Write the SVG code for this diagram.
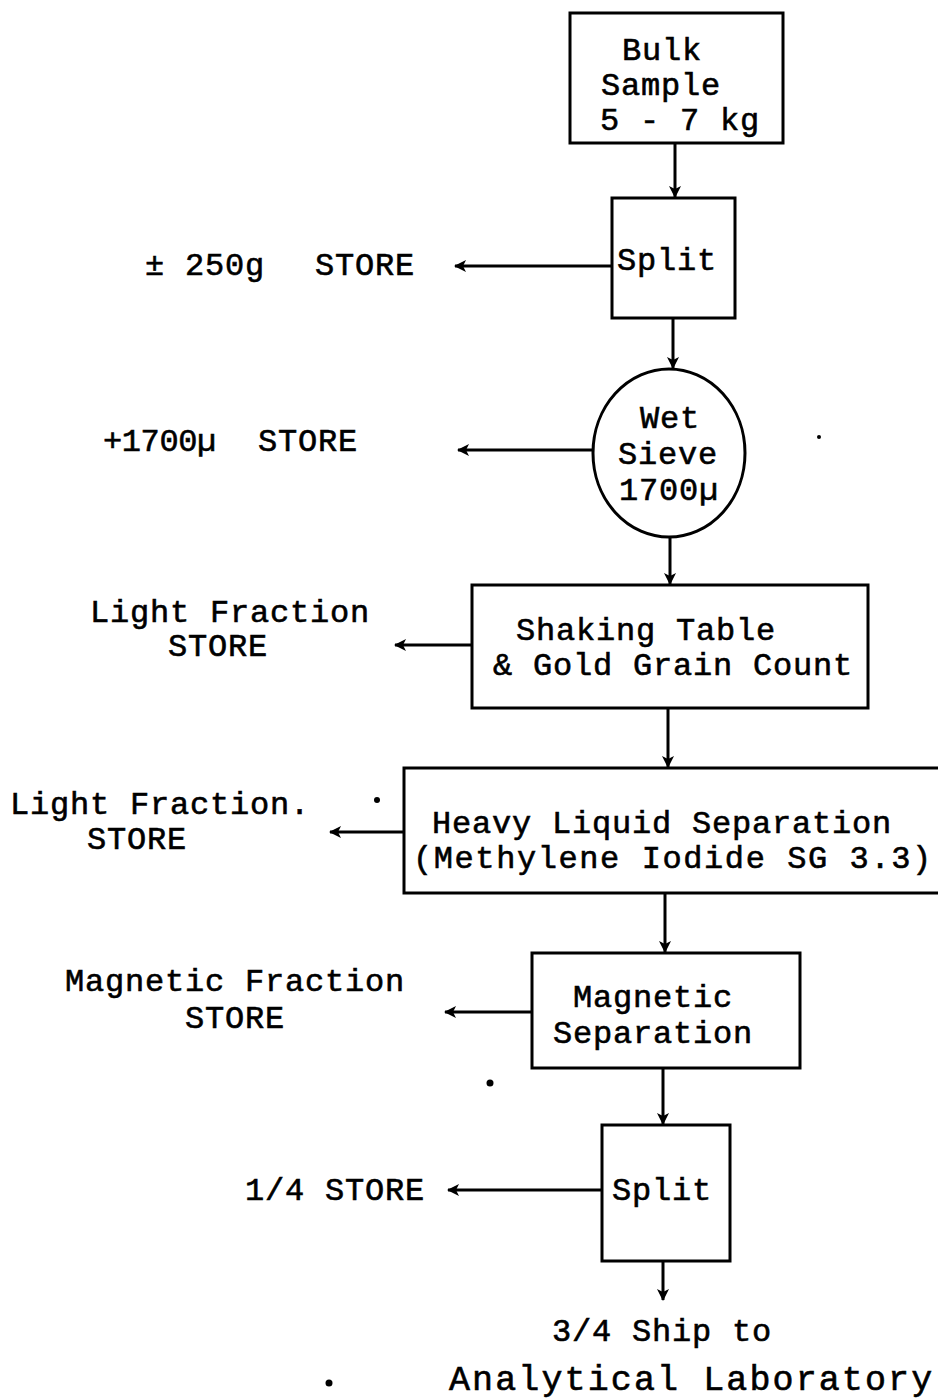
<svg xmlns="http://www.w3.org/2000/svg" width="938" height="1399" viewBox="0 0 938 1399">
<defs>
<marker id="ah" viewBox="0 0 12 12" refX="11" refY="6" markerWidth="12" markerHeight="12" markerUnits="userSpaceOnUse" orient="auto">
<path d="M0,0 L12,6 L0,12 L3,6 Z" fill="#000"/>
</marker>
<style>
.box{fill:#fff;stroke:#000;stroke-width:3}
.t{font-family:"Liberation Mono","Courier New",monospace;font-size:32px;letter-spacing:0.8px;fill:#000;stroke:#000;stroke-width:0.6}
.c{stroke:#000;stroke-width:3;fill:none;marker-end:url(#ah)}
</style>
</defs>
<rect width="938" height="1399" fill="#fff"/>
<g id="connectors">
<line class="c" x1="675" y1="143" x2="675" y2="197"/>
<line class="c" x1="673" y1="318" x2="673" y2="368"/>
<line class="c" x1="670" y1="537" x2="670" y2="584"/>
<line class="c" x1="668" y1="708" x2="668" y2="767"/>
<line class="c" x1="665" y1="893" x2="665" y2="952"/>
<line class="c" x1="663" y1="1068" x2="663" y2="1124"/>
<line class="c" x1="663" y1="1261" x2="663" y2="1300"/>
<line class="c" x1="612" y1="266" x2="455" y2="266"/>
<line class="c" x1="593" y1="450" x2="458" y2="450"/>
<line class="c" x1="472" y1="645" x2="395" y2="645"/>
<line class="c" x1="404" y1="832" x2="330" y2="832"/>
<line class="c" x1="532" y1="1012" x2="445" y2="1012"/>
<line class="c" x1="602" y1="1190" x2="448" y2="1190"/>
</g>
<g id="bulk">
<rect class="box" x="570" y="13" width="213" height="130"/>
<text class="t" x="622" y="60">Bulk</text>
<text class="t" x="601" y="95">Sample</text>
<text class="t" x="600" y="130">5 - 7 kg</text>
</g>
<g id="split1">
<rect class="box" x="612" y="198" width="123" height="120"/>
<text class="t" x="617" y="270">Split</text>
</g>
<g id="store250">
<text class="t" x="145" y="275">± 250g</text>
<text class="t" x="315" y="275">STORE</text>
</g>
<g id="wetsieve">
<ellipse class="box" cx="669" cy="453" rx="76" ry="84"/>
<text class="t" x="640" y="428">Wet</text>
<text class="t" x="618" y="464">Sieve</text>
<text class="t" x="619" y="500">1700µ</text>
</g>
<g id="store1700">
<text class="t" x="103" y="451" textLength="114">+1700µ</text>
<text class="t" x="258" y="451">STORE</text>
</g>
<g id="shaking">
<rect class="box" x="472" y="585" width="396" height="123"/>
<text class="t" x="516" y="640">Shaking Table</text>
<text class="t" x="493" y="675">&amp; Gold Grain Count</text>
</g>
<g id="light1">
<text class="t" x="90" y="622">Light Fraction</text>
<text class="t" x="168" y="656">STORE</text>
</g>
<g id="heavy">
<rect class="box" x="404" y="768" width="536" height="125"/>
<text class="t" x="432" y="833">Heavy Liquid Separation</text>
<text class="t" x="413" y="868" textLength="519">(Methylene Iodide SG 3.3)</text>
</g>
<g id="light2">
<text class="t" x="10" y="814">Light Fraction.</text>
<text class="t" x="87" y="849">STORE</text>
</g>
<g id="magnetic">
<rect class="box" x="532" y="953" width="268" height="115"/>
<text class="t" x="573" y="1007">Magnetic</text>
<text class="t" x="553" y="1043">Separation</text>
</g>
<g id="magstore">
<text class="t" x="65" y="991">Magnetic Fraction</text>
<text class="t" x="185" y="1028">STORE</text>
</g>
<g id="split2">
<rect class="box" x="602" y="1125" width="128" height="136"/>
<text class="t" x="612" y="1200">Split</text>
</g>
<g id="quarter">
<text class="t" x="245" y="1200">1/4 STORE</text>
</g>
<g id="ship">
<text class="t" x="552" y="1341">3/4 Ship to</text>
<text class="t" x="449" y="1390" style="font-size:35px" textLength="484">Analytical Laboratory</text>
</g>
<g id="specks" fill="#000">
<circle cx="377" cy="800" r="3"/>
<circle cx="490" cy="1083" r="3.5"/>
<circle cx="329" cy="1383" r="3.5"/>
<circle cx="819" cy="437" r="2"/>
</g>
</svg>
